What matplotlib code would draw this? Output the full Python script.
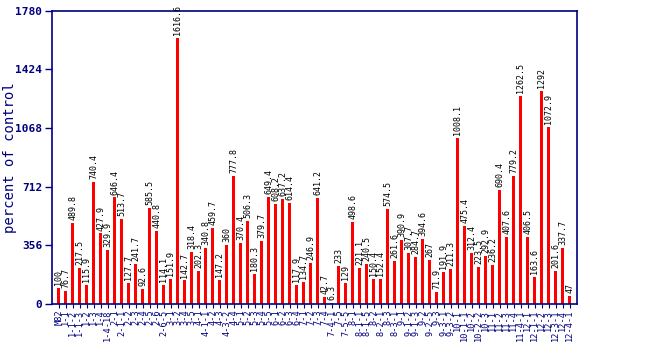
import matplotlib

matplotlib.use("Agg")
import matplotlib.pyplot as plt
import numpy as np

NAVY = "#000080"

# introgression lines (x categories)
lines = [
    "M82", "1-1", "1-1-2", "1-1-3", "1-2", "1-3", "1-4", "1-4-18",
    "2-1", "2-1-1", "2-2", "2-3", "2-4", "2-5", "2-6", "2-6-5",
    "3-1", "3-2", "3-4", "3-5",
    "4-1", "4-1-1", "4-2", "4-3", "4-3-2", "4-4",
    "5-1", "5-2", "5-3", "5-4", "5-5",
    "6-1", "6-2", "6-3", "6-4",
    "7-1", "7-2", "7-3", "7-4", "7-4-1", "7-5", "7-5-5",
    "8-1", "8-1-1", "8-1-5", "8-2", "8-2-1", "8-3", "8-3-1",
    "9-1", "9-1-2", "9-1-3", "9-2", "9-2-5", "9-3", "9-3-1", "9-3-2",
    "10-1", "10-1-1", "10-2", "10-2-2", "10-3",
    "11-1", "11-2", "11-3", "11-4", "11-4-1",
    "12-1", "12-1-1", "12-2", "12-3", "12-3-1", "12-4", "12-4-1",
]

# percent of control
values = [
    100, 76.7, 489.8, 217.5, 115.9, 740.4, 427.9, 329.9, 646.4, 513.7,
    127.7, 241.7, 92.6, 585.5, 440.8, 114.1, 151.9, 1616.6, 142.7, 318.4,
    202.3, 340.8, 459.7, 147.2, 360, 777.8, 370.4, 506.3, 180.3, 379.7,
    649.4, 608.2, 637.2, 614.4, 117.9, 134.7, 246.9, 641.2, 42.7, 6.3,
    233, 129, 498.6, 221.1, 240.5, 150.4, 152.4, 574.5, 261.6, 390.9,
    307.7, 284.7, 394.6, 267, 71.9, 191.9, 211.3, 1008.1, 475.4, 312.4,
    223.5, 292.9, 236.2, 690.4, 407.6, 779.2, 1262.5, 406.5, 163.6, 1292,
    1072.9, 201.6, 337.7, 47,
]

yticks = [0, 356, 712, 1068, 1424, 1780]

mono = "DejaVu Sans Mono"

fig = plt.figure(figsize=(6.5, 3.5), dpi=100)
ax = fig.add_axes([52 / 650, 1 - 304 / 350, (577 - 52) / 650, (304 - 10.7) / 350])

x = np.arange(len(values))
ax.bar(x, values, width=0.48, color="#ff0000", zorder=2)

for xi, v in zip(x, values):
    ax.text(xi, v + 18, f"{v:g}", rotation=90, ha="center", va="bottom",
            fontsize=6, family=mono, color="black")

ax.set_xlim(-0.95, len(values) - 1 + 1.06)
ax.set_ylim(0, 1780)
ax.set_yticks(yticks)
ax.set_yticklabels([str(t) for t in yticks], fontsize=8, fontweight="bold",
                   family=mono, color=NAVY)
ax.set_xticks(x)
ax.set_xticklabels(lines, rotation=90, fontsize=6.2, family=mono, color=NAVY)
ax.tick_params(axis="y", colors=NAVY, length=5, width=1, pad=2)
ax.tick_params(axis="x", colors=NAVY, length=3, width=0.8, pad=1)
for s in ax.spines.values():
    s.set_color(NAVY)
    s.set_linewidth(1.2)

ax.set_ylabel("percent of control", fontsize=10, family=mono, color=NAVY)
ax.yaxis.set_label_coords(-0.066, 0.5)

fig.savefig("out.png", dpi=100)
